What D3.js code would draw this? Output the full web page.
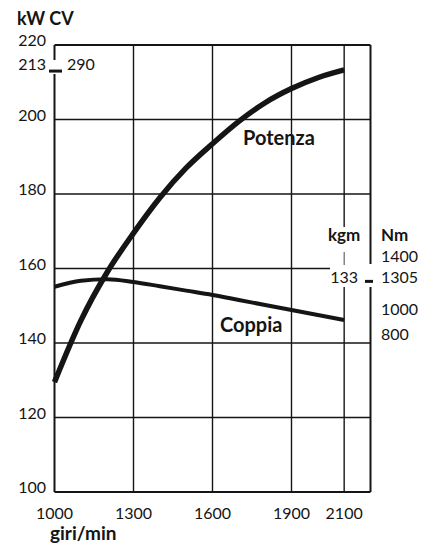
<!DOCTYPE html>
<html>
<head>
<meta charset="utf-8">
<script src="https://cdn.jsdelivr.net/npm/d3@7"></script>
<style>
  html, body { margin: 0; padding: 0; background: #fff; }
  svg text { font-family: Lato, "Open Sans", sans-serif; fill: #151515; }
</style>
</head>
<body>
<div id="chart"></div>
<script>
// dati
const rpm = [1000, 1100, 1200, 1300, 1400, 1500, 1600, 1700, 1800, 1900, 2000, 2100];
const potenzaKw = [129.5, 146, 159, 169.5, 179, 187, 193.5, 199.5, 204.5, 208.3, 211.2, 213.3];
const coppiaNm = [1242, 1290, 1302, 1280, 1246, 1211, 1176, 1136, 1096, 1056, 1016, 976];
const rpmTicks = [1000, 1300, 1600, 1900, 2100];
const kwTicks = [100, 120, 140, 160, 180, 200, 220];
const nmTicks = [1400, 1000, 800];

const width = 431, height = 545;
const ink = "#151515";

const svg = d3.select("#chart")
    .append("svg")
    .attr("width", width)
    .attr("height", height);

// scale
const x = d3.scaleLinear().domain([1000, 2200]).range([54.5, 370.5]);
const y = d3.scaleLinear().domain([100, 220]).range([492, 45]);
const yNm = d3.scaleLinear().domain([800, 1400]).range([342, 267]);

const grid = svg.append("g").attr("stroke", ink).attr("fill", "none");

// griglia orizzontale
kwTicks.forEach(v => {
    let x2 = x(2200);
    if (v === 160) x2 = 330;
    grid.append("line")
        .attr("x1", x(1000)).attr("x2", x2)
        .attr("y1", y(v)).attr("y2", y(v))
        .attr("stroke-width", v === 100 || v === 220 ? 2 : 1.4);
});

// griglia verticale
rpmTicks.forEach(v => {
    if (v === 1000) return;
    if (v === 2100) {
        // interrotta dalle etichette kgm / 133
        [[y(220), 227], [252, 265], [287, y(100)]].forEach(([a, b]) => {
            grid.append("line")
                .attr("x1", x(v)).attr("x2", x(v))
                .attr("y1", a).attr("y2", b)
                .attr("stroke-width", a === 252 ? 0.8 : 1.4);
        });
        return;
    }
    grid.append("line")
        .attr("x1", x(v)).attr("x2", x(v))
        .attr("y1", y(220)).attr("y2", y(100))
        .attr("stroke-width", 1.4);
});

// cornice sinistra (interrotta dal segno 213) e destra
[[y(220), 60], [74, y(100)]].forEach(([a, b]) => {
    grid.append("line")
        .attr("x1", x(1000)).attr("x2", x(1000))
        .attr("y1", a).attr("y2", b)
        .attr("stroke-width", 2);
});
[[y(220), 264], [287, y(100)]].forEach(([a, b]) => {
    grid.append("line")
        .attr("x1", x(2200)).attr("x2", x(2200))
        .attr("y1", a).attr("y2", b)
        .attr("stroke-width", 2);
});

// curve
const linePot = d3.line()
    .x((d, i) => x(rpm[i]))
    .y(d => y(d))
    .curve(d3.curveMonotoneX);

const lineCop = d3.line()
    .x((d, i) => x(rpm[i]))
    .y(d => yNm(d))
    .curve(d3.curveMonotoneX);

svg.append("path")
    .datum(potenzaKw)
    .attr("fill", "none")
    .attr("stroke", ink)
    .attr("stroke-width", 5.5)
    .attr("d", linePot);

svg.append("path")
    .datum(coppiaNm)
    .attr("fill", "none")
    .attr("stroke", ink)
    .attr("stroke-width", 4)
    .attr("d", lineCop);

// etichette asse sinistro
svg.append("g")
    .selectAll("text")
    .data(kwTicks)
    .enter()
    .append("text")
    .attr("x", 46)
    .attr("y", d => y(d) + 1)
    .attr("text-anchor", "end")
    .style("font-size", "16px")
    .text(d => d);

svg.append("text")
    .attr("x", 17).attr("y", 25)
    .style("font-size", "18px")
    .style("font-weight", "bold")
    .text("kW CV");

// 213 kW = 290 CV
svg.append("text")
    .attr("x", 46).attr("y", y(213) - 1)
    .attr("text-anchor", "end")
    .style("font-size", "16px")
    .text("213");
svg.append("line")
    .attr("x1", 49).attr("x2", 62)
    .attr("y1", y(213)).attr("y2", y(213))
    .attr("stroke", ink).attr("stroke-width", 3);
svg.append("text")
    .attr("x", 67).attr("y", y(213) - 1)
    .style("font-size", "16px")
    .text("290");

// asse destro Nm
svg.append("text")
    .attr("x", x(2100)).attr("y", 241)
    .attr("text-anchor", "middle")
    .style("font-size", "17px")
    .style("font-weight", "bold")
    .text("kgm");
svg.append("text")
    .attr("x", 381).attr("y", 241)
    .style("font-size", "17px")
    .style("font-weight", "bold")
    .text("Nm");

svg.append("g")
    .selectAll("text")
    .data(nmTicks)
    .enter()
    .append("text")
    .attr("x", 381)
    .attr("y", d => d === 1400 ? yNm(d) - 5 : yNm(d) - 2)
    .style("font-size", "16px")
    .text(d => d);

// 133 kgm = 1305 Nm
svg.append("text")
    .attr("x", 358).attr("y", yNm(1305) + 4)
    .attr("text-anchor", "end")
    .style("font-size", "16px")
    .text("133");
svg.append("line")
    .attr("x1", 365).attr("x2", 373)
    .attr("y1", yNm(1305) + 2.5).attr("y2", yNm(1305) + 2.5)
    .attr("stroke", ink).attr("stroke-width", 3);
svg.append("text")
    .attr("x", 381).attr("y", yNm(1305) + 4)
    .style("font-size", "16px")
    .text("1305");

// etichette asse x
svg.append("g")
    .selectAll("text")
    .data(rpmTicks)
    .enter()
    .append("text")
    .attr("x", d => x(d))
    .attr("y", 519)
    .attr("text-anchor", "middle")
    .style("font-size", "16px")
    .text(d => d);

svg.append("text")
    .attr("x", 50).attr("y", 540)
    .style("font-size", "19px")
    .style("font-weight", "bold")
    .text("giri/min");

// nomi delle curve
svg.append("text")
    .attr("x", 243).attr("y", 145)
    .style("font-size", "20px")
    .style("font-weight", "bold")
    .text("Potenza");

svg.append("text")
    .attr("x", 220).attr("y", 332)
    .style("font-size", "20px")
    .style("font-weight", "bold")
    .text("Coppia");
</script>
</body>
</html>
